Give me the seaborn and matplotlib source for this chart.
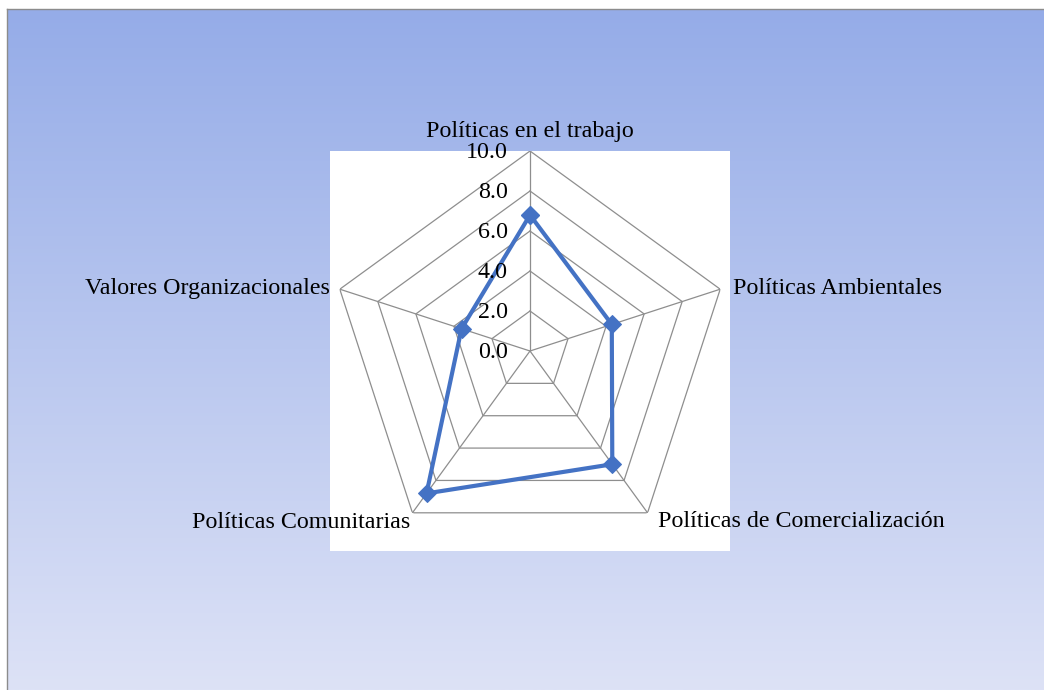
import numpy as np
import pandas as pd
import matplotlib
matplotlib.use("Agg")
import matplotlib.pyplot as plt
import matplotlib.transforms as mtransforms
from matplotlib.colors import LinearSegmentedColormap
import seaborn as sns

categories = ["Políticas en el trabajo", "Políticas Ambientales",
              "Políticas de Comercialización", "Políticas Comunitarias",
              "Valores Organizacionales"]
values = [6.8, 4.3, 7.0, 8.8, 3.6]
rings = [2.0, 4.0, 6.0, 8.0, 10.0]
tick_labels = ["0.0", "2.0", "4.0", "6.0", "8.0", "10.0"]
tick_values = [0.0, 2.0, 4.0, 6.0, 8.0, 10.0]

sns.set_theme(style="white")
plt.rcParams["font.family"] = ["Liberation Serif", "DejaVu Serif"]

W, H = 1044, 690
fig = plt.figure(figsize=(W / 100, H / 100), dpi=100)
fig.patch.set_facecolor("white")

# gradient chart background
bg = fig.add_axes([7 / W, 0, 1 - 7 / W, (H - 9) / H])
cmap = LinearSegmentedColormap.from_list("bg", ["#95ACE8", "#DDE2F6"])
grad = np.linspace(0, 1, 256).reshape(-1, 1)
bg.imshow(grad, aspect="auto", cmap=cmap, extent=[0, 1, 0, 1], origin="upper")
bg.set_xticks([]); bg.set_yticks([])
for s in ["right", "bottom"]:
    bg.spines[s].set_visible(False)
for s in ["top", "left"]:
    bg.spines[s].set_color("#8C8C8C")
    bg.spines[s].set_linewidth(1.0)

rect = [330 / W, (H - 551) / H, 400 / W, 400 / H]
white = fig.add_axes(rect)
white.set_facecolor("white")
white.set_xticks([]); white.set_yticks([])
for s in white.spines.values():
    s.set_visible(False)

ax = fig.add_axes(rect, projection="polar")
ax.patch.set_alpha(0)
ax.set_theta_offset(np.pi / 2)
ax.set_theta_direction(-1)
ax.set_ylim(0, 10)
ax.grid(False)
ax.spines["polar"].set_visible(False)
ax.set_xticks([]); ax.set_yticks([])

n = len(categories)
angles = np.linspace(0, 2 * np.pi, n, endpoint=False)
closed_angles = np.append(angles, 2 * np.pi)

grid_color = "#8E8E8E"
for r in rings:
    ax.plot(closed_angles, [r] * (n + 1), color=grid_color, lw=0.9, zorder=1)
for a in angles:
    ax.plot([a, a], [0, 10], color=grid_color, lw=0.9, zorder=1)

df = pd.DataFrame({"theta": closed_angles, "value": values + [values[0]]})
sns.lineplot(data=df, x="theta", y="value", ax=ax, color="#4472C4", lw=3.0,
             marker="D", markersize=9, markeredgecolor="#4472C4", sort=False,
             zorder=3)
ax.set_xlabel(""); ax.set_ylabel("")
ax.set_xticks([]); ax.set_yticks([])
ax.set_ylim(0, 10)

fs = 17.3
for v, lab in zip(tick_values, tick_labels):
    tr = mtransforms.offset_copy(ax.transData, fig=fig, x=-22, y=-2, units="dots")
    ax.text(0, v, lab, transform=tr, ha="right", va="center", fontsize=fs,
            color="black", zorder=4)

offsets = [(0, 9, "center", "bottom"), (13, 1, "left", "center"),
           (10, -9, "left", "center"), (-2, -10, "right", "center"),
           (-10, 1, "right", "center")]
for a, lab, (dx, dy, ha, va) in zip(angles, categories, offsets):
    tr = mtransforms.offset_copy(ax.transData, fig=fig, x=dx, y=dy, units="dots")
    ax.text(a, 10, lab, transform=tr, ha=ha, va=va, fontsize=fs, color="black",
            clip_on=False)

fig.savefig("out.png", dpi=100)
